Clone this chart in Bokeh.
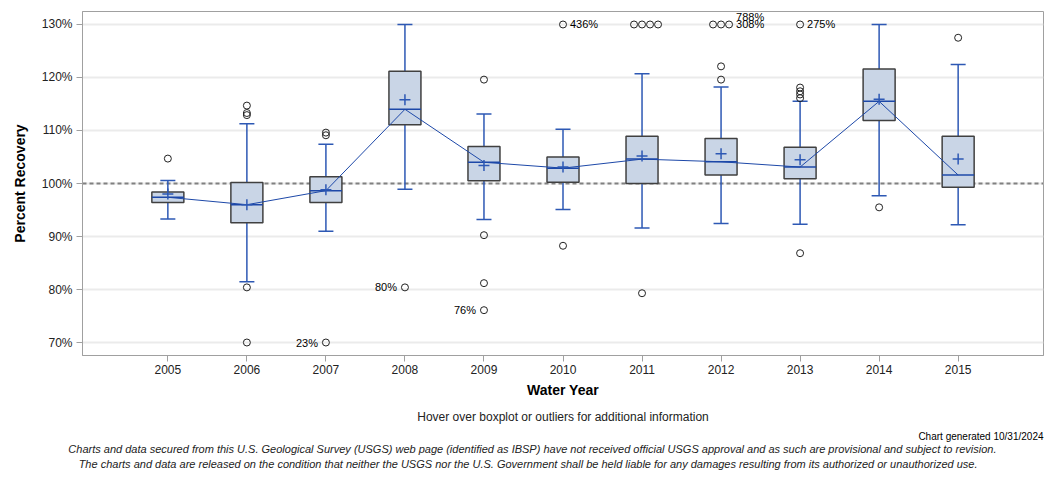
from bokeh.plotting import figure
from bokeh.models import ColumnDataSource, Span, Title, FixedTicker, CustomJSTickFormatter
from bokeh.embed import file_html
from bokeh.resources import INLINE
from bokeh.core.properties import value

# ---------------- data ----------------
years = [2005, 2006, 2007, 2008, 2009, 2010, 2011, 2012, 2013, 2014, 2015]
q1 = [96.4, 92.6, 96.4, 111.1, 100.5, 100.25, 100.0, 101.6, 100.9, 111.9, 99.3]
median = [97.4, 96.0, 98.65, 114.0, 104.0, 102.9, 104.6, 104.1, 103.1, 115.5, 101.6]
q3 = [98.4, 100.2, 101.25, 121.2, 107.0, 105.0, 108.9, 108.5, 106.85, 121.6, 108.9]
mean = [98.0, 96.0, 98.8, 115.8, 103.4, 103.1, 105.2, 105.6, 104.5, 115.9, 104.6]
whisk_lo = [93.3, 81.45, 91.0, 98.9, 93.2, 95.1, 91.6, 92.45, 92.3, 97.7, 92.2]
whisk_hi = [100.55, 111.25, 107.4, 130.0, 113.1, 110.25, 120.7, 118.2, 115.5, 130.0, 122.45]

# outliers inside the axis range
out_year = [2005, 2006, 2006, 2006, 2006, 2006, 2007, 2007, 2008, 2009, 2009, 2009, 2009,
            2010, 2011, 2012, 2012, 2013, 2013, 2013, 2013, 2013, 2014, 2015]
out_value = [104.7, 114.7, 113.3, 112.9, 80.4, 70.0, 109.6, 109.1, 80.4, 119.6, 90.25, 81.2, 76.1,
             88.25, 79.3, 122.1, 119.6, 118.1, 117.4, 116.8, 116.1, 86.85, 95.5, 127.5]
out_label = ["", "", "", "", "", "", "", "", "80%", "", "", "", "76%",
             "", "", "", "", "", "", "", "", "", "", ""]

# outliers beyond the axis range (drawn at the axis limit)
off_year = [2007, 2010, 2011, 2011, 2011, 2011, 2012, 2012, 2012, 2013]
off_value = [23, 436, 135, 147, 162, 190, 286, 308, 788, 275]
off_label = ["23%", "436%", "", "", "", "", "", "308%", "788%", "275%"]

y_ticks = [70, 80, 90, 100, 110, 120, 130]
y_lo, y_hi = 70, 130

# ---------------- style ----------------
FONT = "Liberation Sans"
BOX_FILL = "#c9d5e6"
BOX_LINE = "#404040"
WHISK = "#2d58b4"
MED = "#1d48a8"

p = figure(width=1056, height=480, output_backend="svg", toolbar_location=None,
           x_range=(2003.92, 2016.08), y_range=(67.55, 132.45),
           min_border_left=82, min_border_right=13, min_border_top=11, min_border_bottom=125)
p.outline_line_color = "#a0a0a0"
p.background_fill_color = "white"
p.border_fill_color = "white"

p.xgrid.grid_line_color = None
p.ygrid.grid_line_color = "#ebebeb"
p.ygrid.grid_line_width = 2

for ax in (p.xaxis[0], p.yaxis[0]):
    ax.axis_line_color = "#a0a0a0"
    ax.major_tick_line_color = "#a0a0a0"
    ax.major_tick_out = 6
    ax.major_tick_in = 0
    ax.minor_tick_line_color = None
    ax.major_label_text_font = FONT
    ax.major_label_text_font_size = "12px"
    ax.major_label_text_color = "#222222"
    ax.axis_label_text_font = FONT
    ax.axis_label_text_font_size = "14px"
    ax.axis_label_text_font_style = "bold"
    ax.axis_label_text_color = "black"

p.xaxis.ticker = FixedTicker(ticks=years)
p.xaxis.axis_label = "Water Year"
p.xaxis.major_label_standoff = 3
p.xaxis.axis_label_standoff = 5
p.yaxis.ticker = FixedTicker(ticks=y_ticks)
p.yaxis.formatter = CustomJSTickFormatter(code="return tick.toFixed(0) + '%';")
p.yaxis.axis_label = "Percent Recovery"
p.yaxis.major_label_standoff = 4
p.yaxis.axis_label_standoff = 11

# reference line
p.add_layout(Span(location=100, dimension="width", line_color="#808080",
                  line_width=2, line_dash="4 3", level="underlay"))

BOX_W = 0.405
CAP_W = 0.19
src = ColumnDataSource(dict(
    x=years, q1=q1, q3=q3, med=median, mean=mean, lo=whisk_lo, hi=whisk_hi,
    bx0=[y - BOX_W / 2 for y in years], bx1=[y + BOX_W / 2 for y in years],
    cx0=[y - CAP_W / 2 for y in years], cx1=[y + CAP_W / 2 for y in years],
))

# whiskers and caps
p.segment(x0="x", x1="x", y0="q3", y1="hi", source=src, line_color=WHISK, line_width=1.5)
p.segment(x0="x", x1="x", y0="q1", y1="lo", source=src, line_color=WHISK, line_width=1.5)
p.segment(x0="cx0", x1="cx1", y0="hi", y1="hi", source=src, line_color=WHISK, line_width=1.5)
p.segment(x0="cx0", x1="cx1", y0="lo", y1="lo", source=src, line_color=WHISK, line_width=1.5)
# boxes
p.vbar(x="x", width=BOX_W, bottom="q1", top="q3", source=src,
       fill_color=BOX_FILL, line_color=BOX_LINE, line_width=1.5)
# medians
p.segment(x0="bx0", x1="bx1", y0="med", y1="med", source=src, line_color=MED, line_width=1.5)
# median connecting line
p.line(x="x", y="med", source=src, line_color=MED, line_width=1)
# means
p.scatter(x="x", y="mean", source=src, marker="cross", size=11, line_color=WHISK,
          line_width=1.5, fill_color=None)

# outliers inside range
p.scatter(x=out_year, y=out_value, marker="circle", size=7, fill_color=None,
          line_color="#222222", line_width=1)

# off-scale outliers, spread horizontally per year
DX = 8 / 79.0
ox, oy = [], []
lab_x, lab_y, lab_t, lab_yoff = [], [], [], []
lowlab_x, lowlab_y, lowlab_t = [], [], []
for yr in sorted(set(off_year)):
    idx = [i for i, y in enumerate(off_year) if y == yr]
    n = len(idx)
    xs = [yr + ((k - 1) if n > 1 else 0) * DX for k in range(n)]
    stack = 0
    for k, i in enumerate(idx):
        v = off_value[i]
        yy = y_hi if v > y_hi else y_lo
        ox.append(xs[k])
        oy.append(yy)
        if off_label[i]:
            if v > y_hi:
                lab_x.append(xs[-1]); lab_y.append(yy); lab_t.append(off_label[i])
                lab_yoff.append(-7 * stack)
                stack += 1
            else:
                lowlab_x.append(xs[0]); lowlab_y.append(yy); lowlab_t.append(off_label[i])
p.scatter(x=ox, y=oy, marker="circle", size=7, fill_color=None,
          line_color="#222222", line_width=1)

for i, t in enumerate(out_label):
    if t:
        lowlab_x.append(out_year[i]); lowlab_y.append(out_value[i]); lowlab_t.append(t)

p.text(x=lab_x, y=lab_y, text=lab_t, y_offset=lab_yoff, x_offset=7,
       text_align="left", text_baseline="middle", text_font=value(FONT),
       text_font_size="11px", text_color="black")
p.text(x=lowlab_x, y=lowlab_y, text=lowlab_t, x_offset=-8,
       text_align="right", text_baseline="middle", text_font=value(FONT),
       text_font_size="11px", text_color="black")

# footer texts, stacked below the x axis
p.add_layout(Title(text="Hover over boxplot or outliers for additional information",
                   align="center", text_font=FONT, text_font_size="12px",
                   text_font_style="normal", text_color="#222222", standoff=14), "below")
p.add_layout(Title(text="Chart generated 10/31/2024",
                   align="right", text_font=FONT, text_font_size="10px",
                   text_font_style="normal", text_color="black", standoff=-4), "below")
p.add_layout(Title(text="Charts and data secured from this U.S. Geological Survey (USGS) web page (identified as IBSP) have not received official USGS approval and as such are provisional and subject to revision.",
                   align="right", offset=47, text_font=FONT, text_font_size="11px",
                   text_font_style="italic", text_color="#222222", standoff=3), "below")
p.add_layout(Title(text="The charts and data are released on the condition that neither the USGS nor the U.S. Government shall be held liable for any damages resulting from its authorized or unauthorized use.",
                   align="right", offset=66, text_font=FONT, text_font_size="11px",
                   text_font_style="italic", text_color="#222222", standoff=-2), "below")

open("out.html", "w").write(file_html(p, INLINE))
